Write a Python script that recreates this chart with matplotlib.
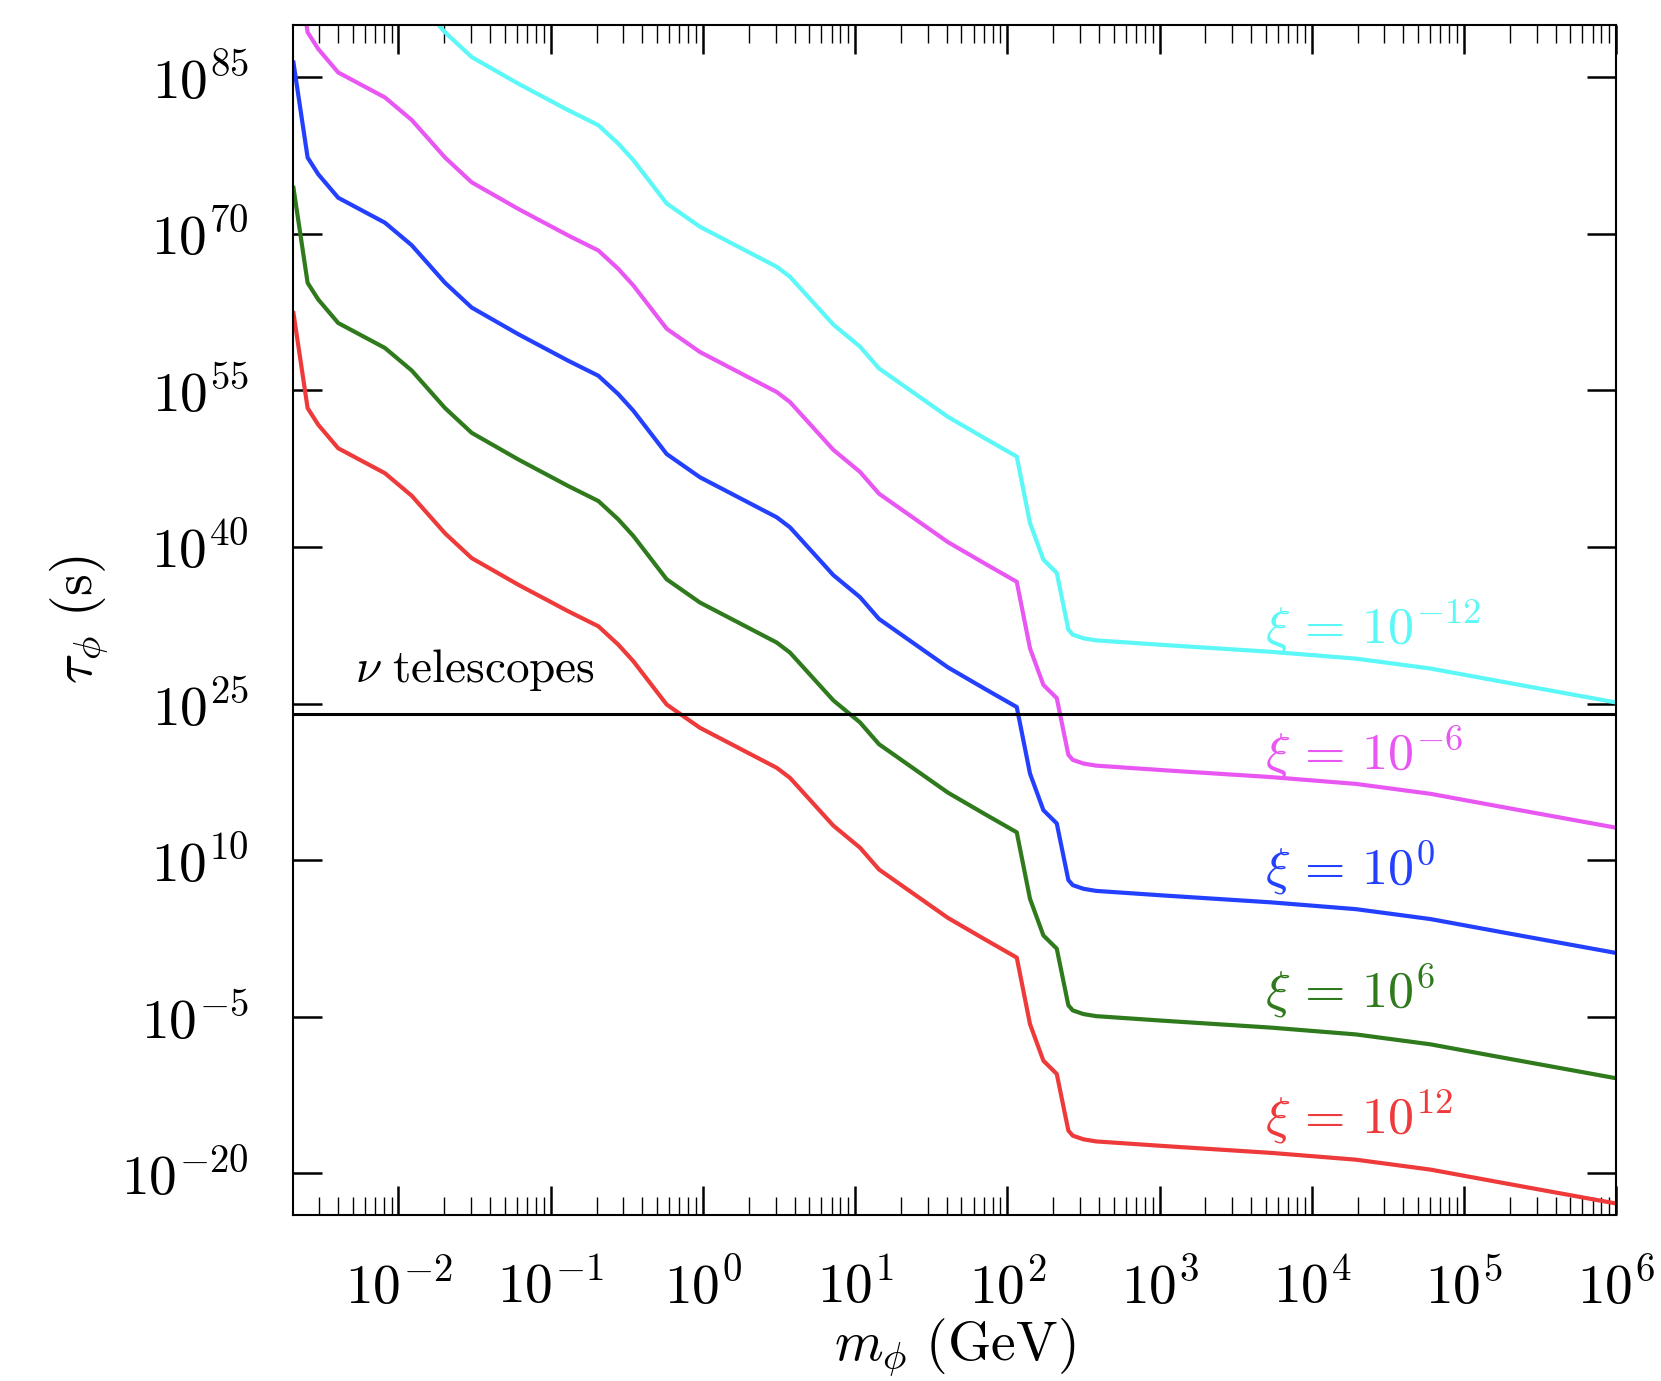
import numpy as np
import matplotlib
matplotlib.use('Agg')
import matplotlib.pyplot as plt
from matplotlib import ticker

plt.rcParams['mathtext.fontset'] = 'cm'

# log10 of m_phi (GeV), shared by all curves
log_m = [-2.69, -2.597, -2.527, -2.396, -2.089, -1.913, -1.694, -1.519, -1.213,
         -0.884, -0.687, -0.556, -0.457, -0.238, -0.019, 0.485, 0.572, 0.857,
         1.032, 1.157, 1.367, 1.610, 1.853, 2.062, 2.149, 2.237, 2.325, 2.401,
         2.43, 2.50, 2.583, 3.037, 3.734, 4.29, 4.78, 5.265, 6.0]

# log10 of tau_phi (s) for each xi
log_tau_xi0 = [86.4, 77.3, 75.7, 73.45, 71.06, 68.9, 65.3, 62.93, 60.38,
               57.83, 56.40, 54.64, 53.05, 48.9, 46.67, 42.84, 41.88, 37.3,
               35.19, 33.1, 30.95, 28.46, 26.4, 24.66, 18.29, 14.78, 13.51, 8.09,
               7.6, 7.25, 7.05, 6.6, 5.95, 5.3, 4.35, 3.05, 1.1]
log_tau_xim12 = [110.4, 101.3, 99.7, 97.45, 95.06, 92.9, 89.3, 86.93, 84.38,
                 81.83, 80.40, 78.64, 77.05, 72.9, 70.67, 66.84, 65.88, 61.3,
                 59.19, 57.1, 54.95, 52.46, 50.4, 48.66, 42.29, 38.78, 37.51, 32.09,
                 31.6, 31.25, 31.05, 30.6, 29.95, 29.3, 28.35, 27.05, 25.1]
log_tau_xim6 = [98.4, 89.3, 87.7, 85.45, 83.06, 80.9, 77.3, 74.93, 72.38,
                69.83, 68.40, 66.64, 65.05, 60.9, 58.67, 54.84, 53.88, 49.3,
                47.19, 45.1, 42.95, 40.46, 38.4, 36.66, 30.29, 26.78, 25.51, 20.09,
                19.6, 19.25, 19.05, 18.6, 17.95, 17.3, 16.35, 15.05, 13.1]
log_tau_xi6 = [74.4, 65.3, 63.7, 61.45, 59.06, 56.9, 53.3, 50.93, 48.38,
               45.83, 44.40, 42.64, 41.05, 36.9, 34.67, 30.84, 29.88, 25.3,
               23.19, 21.1, 18.95, 16.46, 14.4, 12.66, 6.29, 2.78, 1.51, -3.91,
               -4.4, -4.75, -4.95, -5.4, -6.05, -6.7, -7.65, -8.95, -10.9]
log_tau_xi12 = [62.4, 53.3, 51.7, 49.45, 47.06, 44.9, 41.3, 38.93, 36.38,
                33.83, 32.40, 30.64, 29.05, 24.9, 22.67, 18.84, 17.88, 13.3,
                11.19, 9.1, 6.95, 4.46, 2.4, 0.66, -5.71, -9.22, -10.49, -15.91,
                -16.4, -16.75, -16.95, -17.4, -18.05, -18.7, -19.65, -20.95, -22.9]

curves = [log_tau_xim12, log_tau_xim6, log_tau_xi0, log_tau_xi6, log_tau_xi12]
labels = [r'$\xi\,=\,10^{-12}$', r'$\xi\,=\,10^{-6}$', r'$\xi\,=\,10^{0}$',
          r'$\xi\,=\,10^{6}$', r'$\xi\,=\,10^{12}$']
colors = ['#5CF8F8', '#E957F3', '#2440FF', '#2F7A1C', '#EE3A3A']
label_log_tau = [30.76, 18.61, 7.6, -4.19, -16.2]
label_log_m = 3.69

nu_limit = 1e24
yticks_exp = [-20, -5, 10, 25, 40, 55, 70, 85]

fig = plt.figure(figsize=(16.61, 13.81), dpi=100)
ax = fig.add_axes([0.1764, 0.1202, 0.7966, 0.8617])

m = 10.0 ** np.array(log_m)
for lt, c in zip(curves, colors):
    ax.plot(m, 10.0 ** np.array(lt), color=c, lw=3.0, solid_joinstyle='round')

ax.axhline(nu_limit, color='black', lw=2.2)

for lab, c, ly in zip(labels, colors, label_log_tau):
    ax.text(10 ** label_log_m, 10 ** ly, lab, color=c, fontsize=37.5,
            ha='left', va='baseline')

ax.text(10 ** -2.286, 10 ** 27.05, r'$\nu\ \mathrm{telescopes}$', fontsize=34,
        ha='left', va='baseline')

ax.set_xscale('log')
ax.set_yscale('log')
ax.set_xlim(10 ** -2.693, 1e6)
ax.set_ylim(1e-24, 1e90)

ax.xaxis.set_major_locator(ticker.LogLocator(base=10, numticks=30))
ax.xaxis.set_minor_locator(ticker.LogLocator(base=10, subs=np.arange(2, 10), numticks=200))
ax.xaxis.set_major_formatter(ticker.FuncFormatter(lambda v, p: r'$\mathrm{10^{%d}}$' % round(np.log10(v))))
ax.xaxis.set_minor_formatter(ticker.NullFormatter())

ax.yaxis.set_major_locator(ticker.FixedLocator([10.0 ** e for e in yticks_exp]))
ax.yaxis.set_minor_locator(ticker.NullLocator())
ax.yaxis.set_major_formatter(ticker.FuncFormatter(lambda v, p: r'$\mathrm{10^{%d}}$' % round(np.log10(v))))

ax.tick_params(which='both', direction='in', top=True, right=True, labelsize=40)
ax.tick_params(which='major', length=21, width=1.8)
ax.tick_params(which='minor', length=13, width=1.0)
ax.tick_params(axis='x', which='major', pad=33)
ax.tick_params(axis='y', which='major', pad=32)

for s in ax.spines.values():
    s.set_linewidth(1.5)

ax.set_xlabel(r'$m_\phi\ (\mathrm{GeV})$', fontsize=40, labelpad=0)
ax.set_ylabel(r'$\tau_\phi\ (\mathrm{s})$', fontsize=40, labelpad=8)

fig.savefig('out.png', dpi=100)
